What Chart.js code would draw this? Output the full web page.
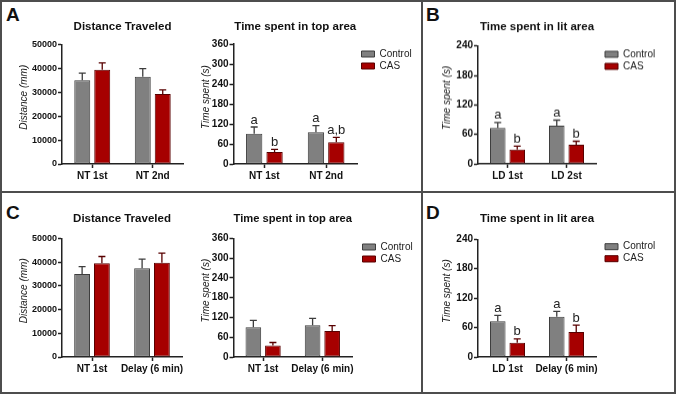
<!DOCTYPE html>
<html>
<head>
<meta charset="utf-8">
<script src="https://cdn.jsdelivr.net/npm/chart.js@4.4.0/dist/chart.umd.min.js"></script>
<style>
body { margin: 0; background: #fff; }
#fig { position: relative; width: 676px; height: 394px; overflow: hidden; font-family: Arial, "Liberation Sans", sans-serif; }
#fig canvas { position: absolute; }
.ln { position: absolute; background: #4d4d4d; }
.lt { position: absolute; font-weight: bold; font-size: 19px; line-height: 19px; color: #111; }
</style>
</head>
<body>
<div id="fig">
  <div class="ln" style="left:0;top:0;width:676px;height:2px"></div>
  <div class="ln" style="left:0;top:392px;width:676px;height:2px"></div>
  <div class="ln" style="left:0;top:0;width:2px;height:394px"></div>
  <div class="ln" style="left:674px;top:0;width:2px;height:394px"></div>
  <div class="ln" style="left:421px;top:0;width:2px;height:394px"></div>
  <div class="ln" style="left:0;top:191px;width:676px;height:2px"></div>
  <div class="lt" style="left:6px;top:5px">A</div>
  <div class="lt" style="left:426px;top:5px">B</div>
  <div class="lt" style="left:6px;top:203px">C</div>
  <div class="lt" style="left:426px;top:203px">D</div>
  <canvas id="distA"></canvas>
  <canvas id="topA"></canvas>
  <canvas id="litB"></canvas>
  <canvas id="distC"></canvas>
  <canvas id="topC"></canvas>
  <canvas id="litD"></canvas>
</div>
<script>
// categories
var catsA = ['NT 1st', 'NT 2nd'];
var catsB = ['LD 1st', 'LD 2st'];
var catsC = ['NT 1st', 'Delay (6 min)'];
var catsD = ['LD 1st', 'Delay (6 min)'];

// y tick values
var distTicks = [0, 10000, 20000, 30000, 40000, 50000];
var topTicks = [0, 60, 120, 180, 240, 300, 360];
var litTicks = [0, 60, 120, 180, 240];

// A - distance traveled (mean, sem)
var distA_ctrl = [35000, 36500];
var distA_ctrlSem = [3000, 3400];
var distA_cas = [39400, 29300];
var distA_casSem = [2900, 1700];

// A - time in top area
var topA_ctrl = [91, 95];
var topA_ctrlSem = [20, 20];
var topA_cas = [36, 65];
var topA_casSem = [8, 15];
var topA_ctrlSig = ['a', 'a'];
var topA_casSig = ['b', 'a,b'];

// B - time in lit area
var litB_ctrl = [73, 78];
var litB_ctrlSem = [11, 11];
var litB_cas = [29, 39];
var litB_casSem = [7, 7];
var litB_ctrlSig = ['a', 'a'];
var litB_casSig = ['b', 'b'];

// C - distance traveled
var distC_ctrl = [35000, 37500];
var distC_ctrlSem = [3100, 3800];
var distC_cas = [39600, 39800];
var distC_casSem = [2800, 4000];

// C - time in top area
var topC_ctrl = [90, 96];
var topC_ctrlSem = [21, 21];
var topC_cas = [35, 79];
var topC_casSem = [9, 16];

// D - time in lit area
var litD_ctrl = [73, 82];
var litD_ctrlSem = [12, 11];
var litD_cas = [29, 51];
var litD_casSem = [8, 14];
var litD_ctrlSig = ['a', 'a'];
var litD_casSig = ['b', 'b'];

Chart.defaults.font.family = 'Arial, "Liberation Sans", sans-serif';

var errorBars = {
    id: 'errorBars',
    afterDatasetsDraw: function (chart) {
        var ctx = chart.ctx;
        var y = chart.scales.y;
        chart.data.datasets.forEach(function (ds, i) {
            var meta = chart.getDatasetMeta(i);
            meta.data.forEach(function (bar, j) {
                var top = y.getPixelForValue(ds.data[j] + ds.sem[j]);
                ctx.save();
                ctx.strokeStyle = ds.borderColor;
                ctx.lineWidth = 1.3;
                ctx.beginPath();
                ctx.moveTo(bar.x, bar.y);
                ctx.lineTo(bar.x, top);
                ctx.moveTo(bar.x - 3.5, top);
                ctx.lineTo(bar.x + 3.5, top);
                ctx.stroke();
                if (ds.sig) {
                    ctx.fillStyle = '#222';
                    ctx.font = '13px Arial, "Liberation Sans", sans-serif';
                    ctx.textAlign = 'center';
                    ctx.textBaseline = 'alphabetic';
                    ctx.fillText(ds.sig[j], bar.x, top - 3.5);
                }
                ctx.restore();
            });
        });
    }
};

// put the legend where the figure has it
var legendPlace = {
    id: 'legendPlace',
    afterLayout: function (chart, args, opts) {
        var lg = chart.legend;
        if (!lg || opts.x === undefined) return;
        var w = lg.width, h = lg.height;
        lg.left = opts.x; lg.top = opts.y;
        lg.right = opts.x + w; lg.bottom = opts.y + h;
    }
};

// y axis title, sits a little above the middle of the axis like in the figure
var yTitle = {
    id: 'yTitle',
    afterDraw: function (chart, args, opts) {
        if (!opts.text) return;
        var ctx = chart.ctx, a = chart.chartArea;
        ctx.save();
        ctx.translate(opts.x, (a.top + a.bottom) / 2 - 7);
        ctx.rotate(-Math.PI / 2);
        ctx.fillStyle = '#222';
        ctx.font = 'italic 10px Arial, "Liberation Sans", sans-serif';
        ctx.textAlign = 'center';
        ctx.textBaseline = 'middle';
        ctx.fillText(opts.text, 0, 0);
        ctx.restore();
    }
};

function makeChart(id, o) {
    var g = o.geo;
    var left = g.ylabCx - 8;
    var width = g.x1 + g.padRight - left;
    var height = g.yBot - g.T + 30;
    var padTop = g.titleCy - 6.9 - g.T;
    var padBot = g.yTop - g.T - padTop - 13.8;
    var cv = document.getElementById(id);
    cv.width = width; cv.height = height;
    cv.style.left = left + 'px'; cv.style.top = g.T + 'px';
    cv.style.width = width + 'px'; cv.style.height = height + 'px';
    var lp = 2;

    var config = {
        type: 'bar',
        data: {
            labels: o.cats,
            datasets: [{
                label: 'Control',
                data: o.ctrl,
                sem: o.ctrlSem,
                sig: o.ctrlSig,
                backgroundColor: '#808080',
                borderColor: '#3d3d3d',
                borderWidth: 1,
                borderSkipped: false,
                categoryPercentage: 0.66,
                barPercentage: 0.8
            }, {
                label: 'CAS',
                data: o.cas,
                sem: o.casSem,
                sig: o.casSig,
                backgroundColor: '#a60000',
                borderColor: '#580000',
                borderWidth: 1,
                borderSkipped: false,
                categoryPercentage: 0.66,
                barPercentage: 0.8
            }]
        },
        options: {
            responsive: false,
            animation: false,
            devicePixelRatio: 1,
            layout: { padding: { left: 0, top: 0, bottom: 0, right: g.padRight } },
            scales: {
                x: {
                    afterFit: function (s) { s.height = 30; },
                    grid: { display: true, offset: false, drawOnChartArea: false, drawTicks: true, tickLength: 4, color: '#222', tickWidth: 1.5 },
                    border: { display: true, color: '#222', width: 1.5 },
                    ticks: { font: { size: 10, weight: 'bold' }, color: '#111', padding: 2, maxRotation: 0, autoSkip: false }
                },
                y: {
                    min: 0,
                    max: o.ticks[o.ticks.length - 1],
                    afterFit: function (s) { s.width = g.x0 - left; },
                    afterBuildTicks: function (axis) {
                        axis.ticks = o.ticks.map(function (v) { return { value: v }; });
                    },
                    grid: { display: true, drawOnChartArea: false, drawTicks: true, tickLength: 4, color: '#222', tickWidth: 1.5 },
                    border: { display: true, color: '#222', width: 1.5 },
                    ticks: {
                        font: { size: o.tickSize, weight: 'bold' }, color: '#111', padding: 1,
                        callback: function (v) { return String(v); }
                    },
                    title: { display: false }
                }
            },
            plugins: {
                title: {
                    display: true,
                    text: o.title,
                    fullSize: false,
                    color: '#111',
                    font: { size: 11.5, weight: 'bold' },
                    padding: { top: padTop, bottom: padBot }
                },
                legend: o.legend ? {
                    display: true,
                    position: 'chartArea',
                    align: 'start',
                    labels: { boxWidth: 13, boxHeight: 6, padding: lp, color: '#222', font: { size: 10 } }
                } : { display: false },
                legendPlace: o.legend ? { x: o.legend.x - left - lp, y: o.legend.y - g.T - lp - 2 } : {},
                yTitle: { text: o.yTitle, x: g.ylabCx - left },
                tooltip: { enabled: false }
            }
        },
        plugins: [errorBars, legendPlace, yTitle]
    };
    return new Chart(cv.getContext('2d'), config);
}

makeChart('distA', {
    cats: catsA, ctrl: distA_ctrl, ctrlSem: distA_ctrlSem, cas: distA_cas, casSem: distA_casSem,
    ticks: distTicks, tickSize: 9, yTitle: 'Distance (mm)', title: 'Distance Traveled',
    geo: { T: 2, x0: 62, x1: 183, yTop: 44.5, yBot: 164, titleCy: 27, ylabCx: 24, padRight: 8 }
});
makeChart('topA', {
    cats: catsA, ctrl: topA_ctrl, ctrlSem: topA_ctrlSem, cas: topA_cas, casSem: topA_casSem,
    ctrlSig: topA_ctrlSig, casSig: topA_casSig,
    ticks: topTicks, tickSize: 10, yTitle: 'Time spent (s)', title: 'Time spent in top area',
    legend: { x: 361, y: 51 },
    geo: { T: 2, x0: 233, x1: 357, yTop: 44, yBot: 164, titleCy: 27, ylabCx: 205.5, padRight: 63 }
});
makeChart('litB', {
    cats: catsB, ctrl: litB_ctrl, ctrlSem: litB_ctrlSem, cas: litB_cas, casSem: litB_casSem,
    ctrlSig: litB_ctrlSig, casSig: litB_casSig,
    ticks: litTicks, tickSize: 10, yTitle: 'Time spent (s)', title: 'Time spent in lit area',
    legend: { x: 605, y: 51 },
    geo: { T: 2, x0: 478, x1: 596, yTop: 45.7, yBot: 163.7, titleCy: 27, ylabCx: 447, padRight: 76 }
});
makeChart('distC', {
    cats: catsC, ctrl: distC_ctrl, ctrlSem: distC_ctrlSem, cas: distC_cas, casSem: distC_casSem,
    ticks: distTicks, tickSize: 9, yTitle: 'Distance (mm)', title: 'Distance Traveled',
    geo: { T: 195, x0: 62, x1: 182, yTop: 238.5, yBot: 357.3, titleCy: 219.3, ylabCx: 24, padRight: 8 }
});
makeChart('topC', {
    cats: catsC, ctrl: topC_ctrl, ctrlSem: topC_ctrlSem, cas: topC_cas, casSem: topC_casSem,
    ticks: topTicks, tickSize: 10, yTitle: 'Time spent (s)', title: 'Time spent in top area',
    legend: { x: 362, y: 244 },
    geo: { T: 195, x0: 233, x1: 352, yTop: 238.3, yBot: 357.3, titleCy: 219, ylabCx: 205.5, padRight: 63 }
});
makeChart('litD', {
    cats: catsD, ctrl: litD_ctrl, ctrlSem: litD_ctrlSem, cas: litD_cas, casSem: litD_casSem,
    ctrlSig: litD_ctrlSig, casSig: litD_casSig,
    ticks: litTicks, tickSize: 10, yTitle: 'Time spent (s)', title: 'Time spent in lit area',
    legend: { x: 605, y: 243.7 },
    geo: { T: 195, x0: 478, x1: 596, yTop: 239.3, yBot: 357, titleCy: 219.3, ylabCx: 447, padRight: 76 }
});
</script>
</body>
</html>
